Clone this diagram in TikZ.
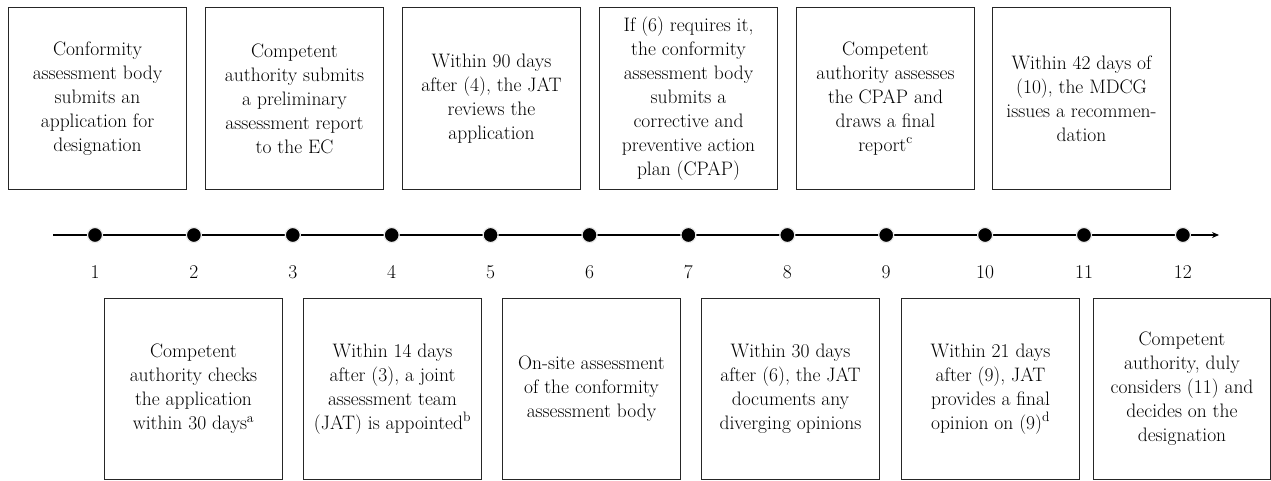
\documentclass[tikz,border=0pt]{standalone}
\usetikzlibrary{arrows.meta}
\tikzset{
  stepbox/.style={draw=black!85, line width=1pt, minimum width=178pt, minimum height=182pt,
    inner sep=0pt, anchor=north west, align=center, font=\fontsize{19.5}{24}\selectfont},
  tdot/.style={circle, fill=black, draw=black!8, line width=1.2pt, minimum size=15pt, inner sep=0pt},
  tnum/.style={font=\fontsize{19.5}{24}\selectfont, inner sep=0pt},
  tline/.style={line width=1.3pt, -{Stealth[length=7pt,width=6pt]}}
}
\begin{document}
\begin{tikzpicture}[x=1pt,y=-1pt]
\useasboundingbox (0,0) rectangle (1271,480);
\fill[white] (0,0) rectangle (1271,480);
% top boxes
\node[stepbox] (t1) at (8,7) {Conformity\\assessment\ body\\submits an\\application for\\designation};
\node[stepbox] (t2) at (205,7) {Competent\\authority submits\\a preliminary\\assessment\ report\\to the EC};
\node[stepbox] (t3) at (402,7) {Within 90 days\\after (4), the JAT\\reviews the\\application};
\node[stepbox] (t4) at (599,7) {If (6) requires it,\\the conformity\\assessment\ body\\submits a\\corrective and\\preventive action\\plan (CPAP)};
\node[stepbox] (t5) at (796,7) {Competent\\authority assesses\\the CPAP and\\draws a final\\report\textsuperscript{c}};
\node[stepbox] (t6) at (992,7) {Within 42 days of\\(10), the MDCG\\issues a recommen-\\dation};
% bottom boxes
\node[stepbox, minimum height=181pt] (b1) at (104,298) {Competent\\authority checks\\the application\\within 30 days\textsuperscript{a}};
\node[stepbox, minimum height=181pt] (b2) at (303,298) {Within 14 days\\after (3), a joint\\assessment\ team\\(JAT) is appointed\textsuperscript{b}};
\node[stepbox, minimum height=181pt] (b3) at (502,298) {On-site assessment\\of the conformity\\assessment\ body};
\node[stepbox, minimum height=181pt] (b4) at (701,298) {Within 30 days\\after (6), the JAT\\documents any\\diverging opinions};
\node[stepbox, minimum height=181pt] (b5) at (901,298) {Within 21 days\\after (9), JAT\\provides a final\\opinion on (9)\textsuperscript{d}};
\node[stepbox, minimum height=181pt, minimum width=177pt] (b6) at (1093,298) {Competent\\authority, duly\\considers (11) and\\decides on the\\designation};
% timeline
\coordinate (tlstart) at (53,235);
\coordinate (tlend) at (1219,235);
\draw[tline] (tlstart) -- (tlend);
\foreach \i in {1,...,12} {
  \node[tdot] (d\i) at ({95+(\i-1)*98.9},235) {};
  \node[tnum] (n\i) at ({95+(\i-1)*98.9},272) {\i};
}
\end{tikzpicture}
\end{document}
